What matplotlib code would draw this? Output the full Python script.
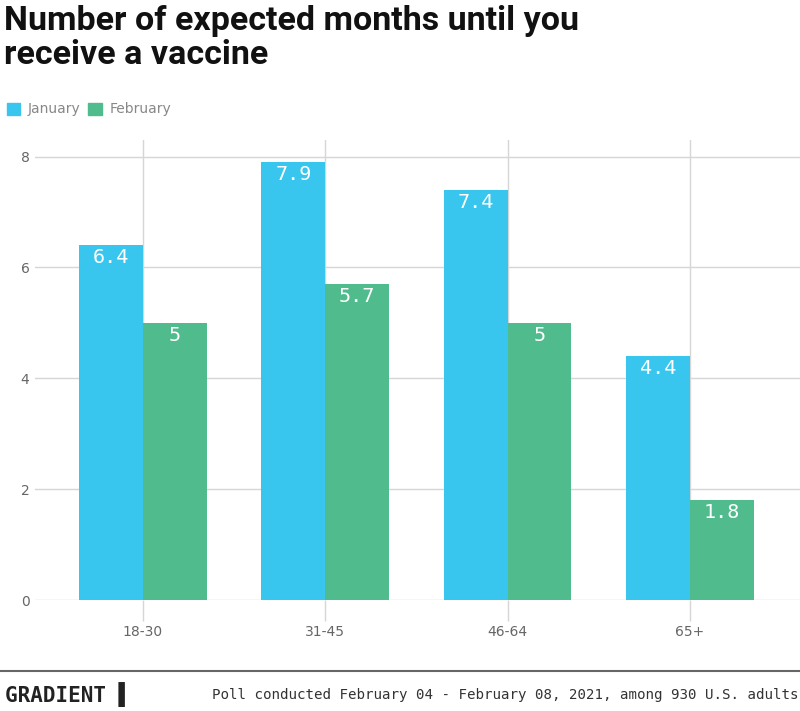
import matplotlib.pyplot as plt
import numpy as np
from matplotlib.patches import Patch

# data
age_groups = ["18-30", "31-45", "46-64", "65+"]
january = [6.4, 7.9, 7.4, 4.4]
february = [5.0, 5.7, 5.0, 1.8]
series_names = ["January", "February"]

blue = "#38C6EE"
green = "#50BC8D"
grid_col = "#d6d6d6"

fig = plt.figure(figsize=(8, 7.11), dpi=100)
ax = fig.add_axes([35 / 800, 1 - 600 / 711, 1 - 35 / 800, 460 / 711])

x = np.arange(len(age_groups))
w = 0.35
b1 = ax.bar(x - w / 2, january, w, color=blue, zorder=3)
b2 = ax.bar(x + w / 2, february, w, color=green, zorder=3)

# value labels inside bar tops
for bars, vals in ((b1, january), (b2, february)):
    for r, v in zip(bars, vals):
        txt = f"{v:g}"
        ax.annotate(txt, (r.get_x() + r.get_width() / 2, v), xytext=(0, -2),
                    textcoords="offset points", ha="center", va="top",
                    color="white", fontsize=14.5, family="DejaVu Sans Mono",
                    zorder=4)

ax.set_xlim(-0.592, 3.604)
ax.set_ylim(0, 8.3)
ax.set_yticks([0, 2, 4, 6, 8])
ax.set_xticks(x)
ax.set_xticklabels(age_groups)
ax.grid(True, color=grid_col, linewidth=1, zorder=0)
ax.tick_params(axis="x", length=15, color=grid_col, width=1, pad=3,
               labelsize=10, labelcolor="#666666")
ax.tick_params(axis="y", length=0, pad=4, labelsize=10, labelcolor="#666666")
for s in ax.spines.values():
    s.set_visible(False)
ax.set_axisbelow(True)

# title
fig.text(4 / 800, 1 - 5 / 711, "Number of expected months until you\nreceive a vaccine",
         ha="left", va="top", fontsize=24.5, fontweight="bold", family="Roboto",
         linespacing=1.08, color="#111111")

# legend
handles = [Patch(color=blue), Patch(color=green)]
fig.legend(handles, series_names, loc="upper left",
           bbox_to_anchor=(-6 / 800, 1 - 90 / 711), ncol=2, frameon=False,
           fontsize=10, labelcolor="#888888", handlelength=1.0, handleheight=1.0,
           handletextpad=0.5, columnspacing=0.6)

# footer
fig.add_artist(plt.Line2D([0, 1], [1 - 671 / 711, 1 - 671 / 711], color="#666666",
                          linewidth=1.5, transform=fig.transFigure))
fig.text(5 / 800, 1 - 695 / 711, "GRADIENT \u258C", ha="left", va="center",
         fontsize=15, fontweight="bold", family="DejaVu Sans Mono", color="#222222")
fig.text(799 / 800, 1 - 695 / 711,
         "Poll conducted February 04 - February 08, 2021, among 930 U.S. adults",
         ha="right", va="center", fontsize=10.2, family="DejaVu Sans Mono",
         color="#333333")

fig.savefig("out.png", dpi=100)
